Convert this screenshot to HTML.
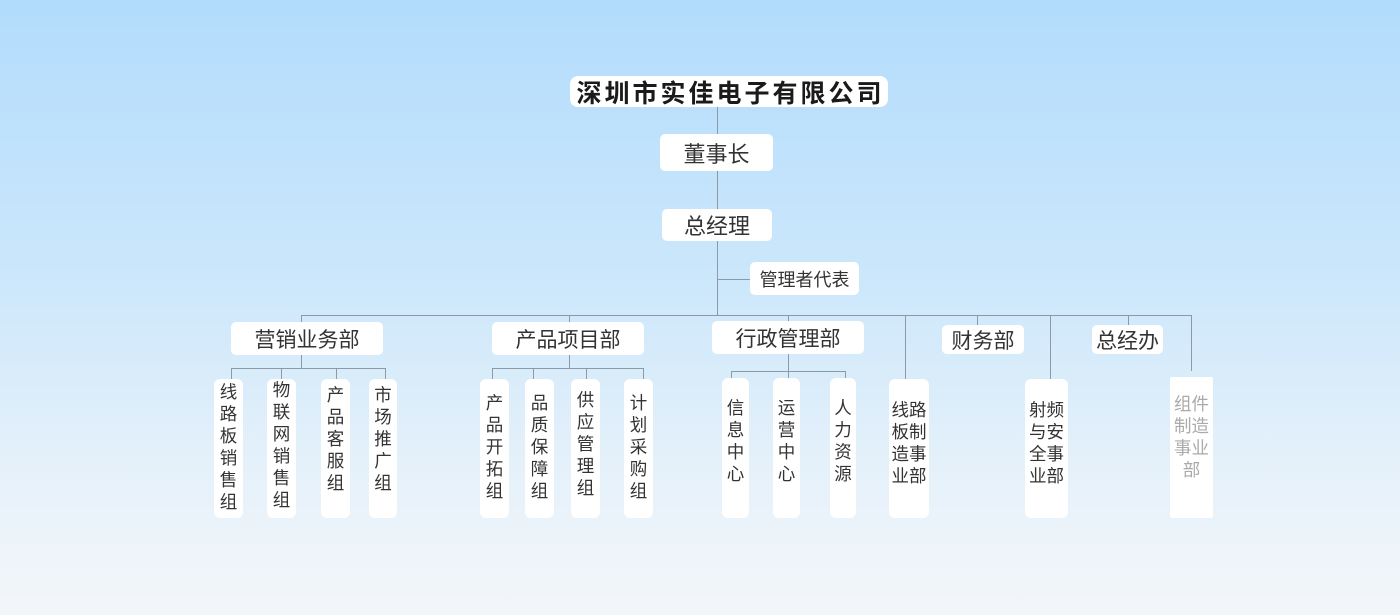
<!DOCTYPE html>
<html><head><meta charset="utf-8"><style>
*{margin:0;padding:0;box-sizing:border-box}
body{width:1400px;height:615px;overflow:hidden;position:relative;background:linear-gradient(#b2dcfc 0%,#cce7fb 45%,#e8f2fa 80%,#f3f6f9 100%);font-family:"Liberation Sans","Noto Sans CJK SC",sans-serif;color:#333}
.b{position:absolute;background:#fff;border-radius:5px;display:flex;align-items:center;justify-content:center;white-space:nowrap}
.v{position:absolute;background:#fff;border-radius:6px;font-size:17.5px;line-height:22px;text-align:center;display:flex;flex-direction:column;align-items:center}
.l{position:absolute;background:#8a9aa8}
</style></head><body>
<div class="l" style="left:717px;top:107px;width:1px;height:208px"></div>
<div class="l" style="left:718px;top:279px;width:32px;height:1px"></div>
<div class="l" style="left:301px;top:315px;width:891px;height:1px"></div>
<div class="l" style="left:301px;top:315px;width:1px;height:7px"></div>
<div class="l" style="left:569px;top:315px;width:1px;height:7px"></div>
<div class="l" style="left:788px;top:315px;width:1px;height:6px"></div>
<div class="l" style="left:905px;top:315px;width:1px;height:64px"></div>
<div class="l" style="left:977px;top:315px;width:1px;height:10px"></div>
<div class="l" style="left:1050px;top:315px;width:1px;height:64px"></div>
<div class="l" style="left:1128px;top:315px;width:1px;height:10px"></div>
<div class="l" style="left:1191px;top:315px;width:1px;height:56px"></div>
<div class="l" style="left:301px;top:355px;width:1px;height:13px"></div>
<div class="l" style="left:231px;top:368px;width:155px;height:1px"></div>
<div class="l" style="left:231px;top:368px;width:1px;height:11px"></div>
<div class="l" style="left:281px;top:368px;width:1px;height:11px"></div>
<div class="l" style="left:336px;top:368px;width:1px;height:11px"></div>
<div class="l" style="left:385px;top:368px;width:1px;height:11px"></div>
<div class="l" style="left:569px;top:355px;width:1px;height:13px"></div>
<div class="l" style="left:492px;top:368px;width:152px;height:1px"></div>
<div class="l" style="left:492px;top:368px;width:1px;height:11px"></div>
<div class="l" style="left:533px;top:368px;width:1px;height:11px"></div>
<div class="l" style="left:586px;top:368px;width:1px;height:11px"></div>
<div class="l" style="left:643px;top:368px;width:1px;height:11px"></div>
<div class="l" style="left:788px;top:354px;width:1px;height:17px"></div>
<div class="l" style="left:731px;top:371px;width:115px;height:1px"></div>
<div class="l" style="left:731px;top:371px;width:1px;height:7px"></div>
<div class="l" style="left:788px;top:371px;width:1px;height:7px"></div>
<div class="l" style="left:845px;top:371px;width:1px;height:7px"></div>
<div class="b" style="left:570px;top:76px;width:318px;height:31px;font-size:25px;font-weight:bold;color:#1a1a1a;letter-spacing:3px;border-radius:8px;padding-left:3px">深圳市实佳电子有限公司</div>
<div class="b" style="left:660px;top:134px;width:113px;height:37px;font-size:22px">董事长</div>
<div class="b" style="left:662px;top:209px;width:110px;height:32px;font-size:22px">总经理</div>
<div class="b" style="left:750px;top:262px;width:109px;height:33px;font-size:18px">管理者代表</div>
<div class="b" style="left:231px;top:322px;width:152px;height:33px;font-size:21px">营销业务部</div>
<div class="b" style="left:492px;top:322px;width:152px;height:33px;font-size:21px">产品项目部</div>
<div class="b" style="left:712px;top:321px;width:152px;height:33px;font-size:21px">行政管理部</div>
<div class="b" style="left:942px;top:325px;width:82px;height:29px;font-size:21px">财务部</div>
<div class="b" style="left:1092px;top:325px;width:71px;height:29px;font-size:21px">总经办</div>
<div class="v" style="left:214px;top:379px;width:29px;height:139px;padding-top:2px">线<br>路<br>板<br>销<br>售<br>组</div>
<div class="v" style="left:267px;top:379px;width:29px;height:139px;padding-top:0">物<br>联<br>网<br>销<br>售<br>组</div>
<div class="v" style="left:321px;top:379px;width:29px;height:139px;padding-top:5px">产<br>品<br>客<br>服<br>组</div>
<div class="v" style="left:369px;top:379px;width:28px;height:139px;padding-top:5px">市<br>场<br>推<br>广<br>组</div>
<div class="v" style="left:480px;top:379px;width:29px;height:139px;padding-top:13px">产<br>品<br>开<br>拓<br>组</div>
<div class="v" style="left:525px;top:379px;width:29px;height:139px;padding-top:13px">品<br>质<br>保<br>障<br>组</div>
<div class="v" style="left:571px;top:379px;width:29px;height:139px;padding-top:10px">供<br>应<br>管<br>理<br>组</div>
<div class="v" style="left:624px;top:379px;width:29px;height:139px;padding-top:13px">计<br>划<br>采<br>购<br>组</div>
<div class="v" style="left:722px;top:378px;width:27px;height:140px;padding-top:19px">信<br>息<br>中<br>心</div>
<div class="v" style="left:773px;top:378px;width:27px;height:140px;padding-top:19px">运<br>营<br>中<br>心</div>
<div class="v" style="left:830px;top:378px;width:26px;height:140px;padding-top:19px">人<br>力<br>资<br>源</div>
<div class="v" style="left:889px;top:379px;width:40px;height:139px;padding-top:20px">线路<br>板制<br>造事<br>业部</div>
<div class="v" style="left:1025px;top:379px;width:43px;height:139px;padding-top:20px">射频<br>与安<br>全事<br>业部</div>
<div class="v" style="left:1170px;top:377px;width:43px;height:141px;padding-top:16px;color:#aaa;border-radius:2px">组件<br>制造<br>事业<br>部</div>
</body></html>
